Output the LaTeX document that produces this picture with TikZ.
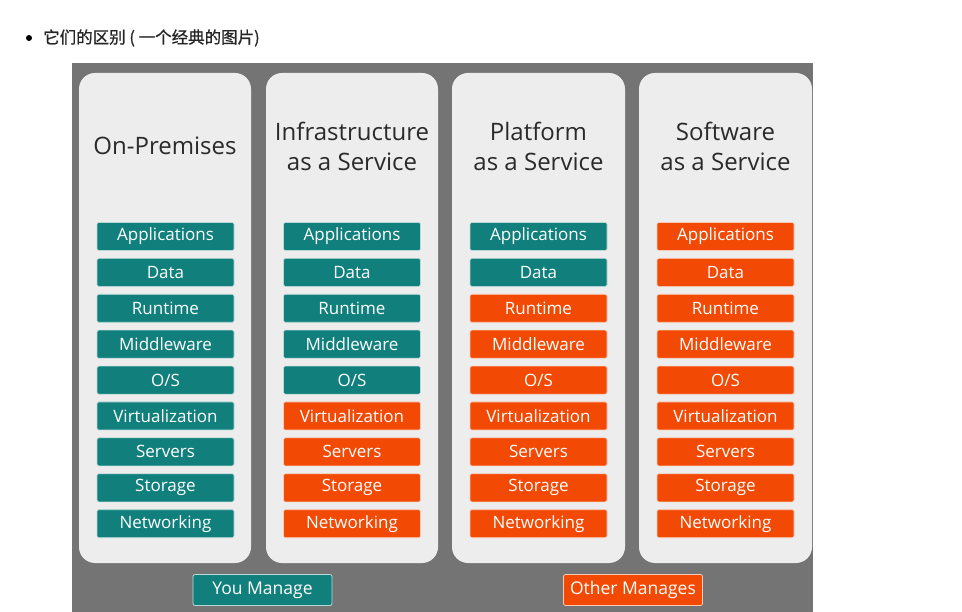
\documentclass[tikz,border=0pt]{standalone}
\usepackage{fontspec}
\setmainfont{Open Sans}
\newfontfamily\cjk[FakeBold=0.8]{Noto Sans CJK SC}
\definecolor{teal1}{HTML}{11807D}
\definecolor{orng}{HTML}{F24A05}
\definecolor{bgray}{HTML}{747474}
\definecolor{colfill}{HTML}{EDEDED}
\definecolor{ttl}{HTML}{2A2A2A}
\begin{document}
\begin{tikzpicture}[x=1pt,y=-1pt,
  col/.style={fill=colfill,rounded corners=16pt},
  layer/.style={minimum width=137pt,minimum height=28pt,inner sep=0pt,text=white,font=\fontsize{17}{17}\selectfont,draw=white!70!#1,line width=0.6pt,rounded corners=1.5pt},
  tl/.style={layer=teal1,fill=teal1},
  ol/.style={layer=orng,fill=orng},
  title/.style={text=ttl,font=\fontsize{24}{30}\selectfont,align=center},
  legend/.style={minimum width=139pt,minimum height=31pt,inner sep=0pt,text=white,font=\fontsize{17.5}{17.5}\selectfont,draw=white!70!#1,line width=0.8pt,rounded corners=2pt}
]
\useasboundingbox (0,0) rectangle (962,612);
\fill[white] (0,0) rectangle (962,612);
\node[circle,fill=black,inner sep=0pt,minimum size=6pt] (bul) at (29,38) {};
\node[anchor=west,inner sep=0pt,text=black!85,font=\cjk\fontsize{16.5}{16.5}\selectfont] (head) at (43,38) {它们的区别 ( 一个经典的图片)};
\fill[bgray] (72,63) rectangle (813,612);
\fill[col] (79,73) rectangle (251,563);
\fill[col] (266,73) rectangle (438,563);
\fill[col] (452,73) rectangle (625,563);
\fill[col] (639,73) rectangle (812,563);
\node[title] (t1) at (165,146) {On-Premises};
\node[title] (t2) at (352,146) {Infrastructure\\as a Service};
\node[title] (t3) at (538.5,146) {Platform\\as a Service};
\node[title] (t4) at (725.5,146) {Software\\as a Service};
% columns of layers
\foreach \cx/\k/\n in {165.5/1/9, 352/2/5, 538.5/3/2, 725.5/4/0}{
  \foreach \lab [count=\i] in {Applications,Data,Runtime,Middleware,O/S,Virtualization,Servers,Storage,Networking}{
    \pgfmathsetmacro{\yy}{236.5+35.9*(\i-1)}
    \ifnum\i>\n
      \node[ol] (l\k-\i) at (\cx,\yy) {\lab};
    \else
      \node[tl] (l\k-\i) at (\cx,\yy) {\lab};
    \fi
  }
}
\node[legend=teal1,fill=teal1] (you) at (262.5,590) {You Manage};
\node[legend=orng,fill=orng] (other) at (633,590) {Other Manages};
\end{tikzpicture}
\end{document}
